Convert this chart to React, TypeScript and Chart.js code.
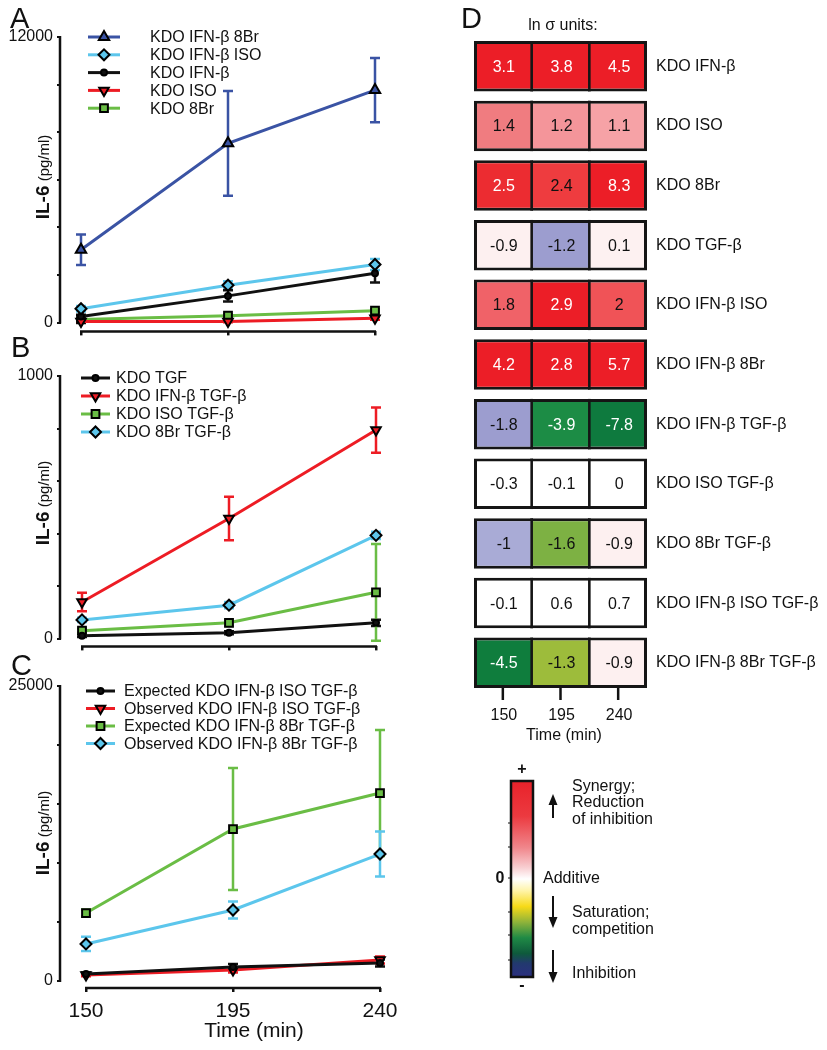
import React, { useEffect, useRef } from 'react';
import { Chart, registerables } from 'chart.js';
import { drawPoint } from 'chart.js/helpers';

Chart.register(...registerables);
const FONT = "'Liberation Sans', Arial, Helvetica, sans-serif";
Chart.defaults.font.family = FONT;
Chart.defaults.color = '#111';

// ---------------- data ----------------
const timePoints = [150, 195, 240];

// Panel A  (IL-6, pg/ml)
const aLabels = ['KDO IFN-β 8Br', 'KDO IFN-β ISO', 'KDO IFN-β', 'KDO ISO', 'KDO 8Br'];
const aIfnB8Br = [3060, 7530, 9770];
const aIfnB8BrErr = [640, 2200, 1350];
const aIfnBIso = [580, 1570, 2440];
const aIfnBIsoErr = [120, 170, 230];
const aIfnB = [250, 1120, 2070];
const aIfnBErr = [80, 240, 390];
const aIso = [40, 40, 180];
const aIsoErr = [30, 30, 60];
const a8Br = [130, 290, 500];
const a8BrErr = [40, 50, 60];
const aYTicks = [0, 2000, 4000, 6000, 8000, 10000, 12000];

// Panel B
const bLabels = ['KDO TGF', 'KDO IFN-β TGF-β', 'KDO ISO TGF-β', 'KDO 8Br TGF-β'];
const bTgf = [11, 22, 60];
const bTgfErr = [5, 6, 12];
const bIfnBTgf = [139, 457, 794];
const bIfnBTgfErr = [35, 83, 86];
const bIsoTgf = [30, 60, 176];
const bIsoTgfErr = [8, 12, 184];
const b8BrTgf = [71, 127, 393];
const b8BrTgfErr = [8, 12, 14];
const bYTicks = [0, 200, 400, 600, 800, 1000];

// Panel C
const cLabels = [
  'Expected KDO IFN-β ISO TGF-β',
  'Observed KDO IFN-β ISO TGF-β',
  'Expected KDO IFN-β 8Br TGF-β',
  'Observed KDO IFN-β 8Br TGF-β',
];
const cExpIso = [590, 1190, 1530];
const cExpIsoErr = [120, 250, 300];
const cObsIso = [500, 930, 1780];
const cObsIsoErr = [100, 200, 300];
const cExp8Br = [5760, 12880, 15930];
const cExp8BrErr = [300, 5170, 5340];
const cObs8Br = [3140, 6020, 10760];
const cObs8BrErr = [600, 720, 1900];
const cYTicks = [0, 5000, 10000, 15000, 20000, 25000];

// Panel D  (ln sigma units)
const rowLabels = [
  'KDO IFN-β',
  'KDO ISO',
  'KDO 8Br',
  'KDO TGF-β',
  'KDO IFN-β ISO',
  'KDO IFN-β 8Br',
  'KDO IFN-β TGF-β',
  'KDO ISO TGF-β',
  'KDO 8Br TGF-β',
  'KDO IFN-β ISO TGF-β',
  'KDO IFN-β 8Br TGF-β',
];
const sigma150 = [3.1, 1.4, 2.5, -0.9, 1.8, 4.2, -1.8, -0.3, -1, -0.1, -4.5];
const sigma195 = [3.8, 1.2, 2.4, -1.2, 2.9, 2.8, -3.9, -0.1, -1.6, 0.6, -1.3];
const sigma240 = [4.5, 1.1, 8.3, 0.1, 2, 5.7, -7.8, 0, -0.9, 0.7, -0.9];
const heatTickLabels = ['150', '195', '240'];

// ---------------- styles ----------------
const BLUE = '#3a53a4';
const CYAN = '#5cc6ec';
const BLACK = '#111111';
const RED = '#ed1c24';
const GREEN = '#6abd45';

const color150 = ['#ec1e27', '#f07c80', '#ec2c31', '#fdf0f0', '#f06268', '#ec1e27', '#9c9dcf', '#ffffff', '#a9abd6', '#ffffff', '#0f7d3d'];
const color195 = ['#ec1e27', '#f4959a', '#ee3c3f', '#9c9dcf', '#ec1e27', '#ec1e27', '#1c8c45', '#ffffff', '#7db143', '#ffffff', '#9dbc3b'];
const color240 = ['#ec1e27', '#f6a2a6', '#ec1e27', '#fdf1f1', '#f05357', '#ec1e27', '#0e7a3e', '#ffffff', '#fdf0f0', '#ffffff', '#fdf0f0'];

type Series = {
  label: string;
  values: number[];
  errors: number[];
  color: string;
  shape: string;
  rotation: number;
  radius: number;
};

type PanelSpec = {
  id: string;
  letter: string;
  top: number;
  height: number;
  width: number;
  series: Series[];
  yMax: number;
  yTicks: number[];
  axisLeftPx: number;
  yTopPx: number;
  yZeroPx: number;
  xSpinePx: number;
  x150Px: number;
  x240Px: number;
  padRight: number;
  showXLabels: boolean;
  legend: { x0: number; x1: number; textX: number; y0: number; dy: number };
  titleCenterY: number;
  letterX: number;
  letterY: number;
  xTitle?: { text: string; x: number; y: number };
};

function mk(label: string, values: number[], errors: number[], color: string, shape: string, rotation: number, radius: number): Series {
  return { label, values, errors, color, shape, rotation, radius };
}

const panelA: PanelSpec = {
  id: 'A', letter: 'A', top: 0, height: 345, width: 410,
  series: [
    mk(aLabels[0], aIfnB8Br, aIfnB8BrErr, BLUE, 'triangle', 0, 6),
    mk(aLabels[1], aIfnBIso, aIfnBIsoErr, CYAN, 'rectRot', 0, 5.5),
    mk(aLabels[2], aIfnB, aIfnBErr, BLACK, 'circle', 0, 3),
    mk(aLabels[3], aIso, aIsoErr, RED, 'triangle', 180, 5.5),
    mk(aLabels[4], a8Br, a8BrErr, GREEN, 'rect', 0, 5.5),
  ],
  yMax: 12000, yTicks: aYTicks,
  axisLeftPx: 61, yTopPx: 37, yZeroPx: 327, xSpinePx: 336, x150Px: 81, x240Px: 375, padRight: 22,
  showXLabels: false,
  legend: { x0: 88, x1: 120, textX: 150, y0: 37, dy: 17.8 },
  titleCenterY: 177, letterX: 10, letterY: 28,
};

const panelB: PanelSpec = {
  id: 'B', letter: 'B', top: 330, height: 330, width: 410,
  series: [
    mk(bLabels[0], bTgf, bTgfErr, BLACK, 'circle', 0, 3),
    mk(bLabels[1], bIfnBTgf, bIfnBTgfErr, RED, 'triangle', 180, 5.5),
    mk(bLabels[2], bIsoTgf, bIsoTgfErr, GREEN, 'rect', 0, 5.5),
    mk(bLabels[3], b8BrTgf, b8BrTgfErr, CYAN, 'rectRot', 0, 5.5),
  ],
  yMax: 1000, yTicks: bYTicks,
  axisLeftPx: 61, yTopPx: 46, yZeroPx: 313, xSpinePx: 321, x150Px: 82, x240Px: 376, padRight: 22,
  showXLabels: false,
  legend: { x0: 81, x1: 110, textX: 116, y0: 48, dy: 18 },
  titleCenterY: 173, letterX: 11, letterY: 27,
};

const panelC: PanelSpec = {
  id: 'C', letter: 'C', top: 645, height: 405, width: 410,
  series: [
    mk(cLabels[0], cExpIso, cExpIsoErr, BLACK, 'circle', 0, 3),
    mk(cLabels[1], cObsIso, cObsIsoErr, RED, 'triangle', 180, 5.5),
    mk(cLabels[2], cExp8Br, cExp8BrErr, GREEN, 'rect', 0, 5.5),
    mk(cLabels[3], cObs8Br, cObs8BrErr, CYAN, 'rectRot', 0, 5.5),
  ],
  yMax: 25000, yTicks: cYTicks,
  axisLeftPx: 61, yTopPx: 41, yZeroPx: 336, xSpinePx: 343, x150Px: 86, x240Px: 380, padRight: 20,
  showXLabels: true,
  legend: { x0: 86, x1: 115, textX: 124, y0: 46, dy: 17.5 },
  titleCenterY: 188, letterX: 11, letterY: 30,
  xTitle: { text: 'Time (min)', x: 254, y: 392 },
};

// ---------------- line panels ----------------
function panelPlugin(spec: PanelSpec) {
  return {
    id: 'panelDecor' + spec.id,
    beforeDatasetsDraw(chart: any) {
      const ctx = chart.ctx;
      const xs = chart.scales.x;
      const ys = chart.scales.y;
      ctx.save();
      ctx.lineCap = 'butt';
      spec.series.forEach((sr) => {
        ctx.strokeStyle = sr.color;
        ctx.lineWidth = 2.5;
        sr.values.forEach((v, i) => {
          const e = sr.errors[i];
          const px = xs.getPixelForValue(timePoints[i]);
          const pt = ys.getPixelForValue(v + e);
          const pb = ys.getPixelForValue(v - e);
          ctx.beginPath();
          ctx.moveTo(px, pt);
          ctx.lineTo(px, pb);
          ctx.moveTo(px - 5, pt);
          ctx.lineTo(px + 5, pt);
          ctx.moveTo(px - 5, pb);
          ctx.lineTo(px + 5, pb);
          ctx.stroke();
        });
      });
      ctx.restore();
    },
    afterDraw(chart: any) {
      const ctx = chart.ctx;
      const xs = chart.scales.x;
      const ys = chart.scales.y;
      const area = chart.chartArea;
      ctx.save();
      // spines
      ctx.strokeStyle = '#111';
      ctx.lineWidth = 2.5;
      ctx.beginPath();
      ctx.moveTo(area.left - 1, ys.getPixelForValue(spec.yMax) - 1);
      ctx.lineTo(area.left - 1, ys.getPixelForValue(0) + 1);
      ctx.stroke();
      ctx.beginPath();
      ctx.moveTo(xs.getPixelForValue(timePoints[0]) - 1, area.bottom);
      ctx.lineTo(xs.getPixelForValue(timePoints[timePoints.length - 1]) + 1, area.bottom);
      ctx.stroke();

      // legend
      const lg = spec.legend;
      ctx.font = `16px ${FONT}`;
      ctx.textBaseline = 'middle';
      ctx.textAlign = 'left';
      spec.series.forEach((sr, i) => {
        const y = lg.y0 + i * lg.dy;
        ctx.strokeStyle = sr.color;
        ctx.lineWidth = 3;
        ctx.beginPath();
        ctx.moveTo(lg.x0, y);
        ctx.lineTo(lg.x1, y);
        ctx.stroke();
        ctx.fillStyle = sr.color;
        ctx.strokeStyle = '#000';
        ctx.lineWidth = 2;
        drawPoint(ctx, { pointStyle: sr.shape as any, rotation: sr.rotation, radius: sr.radius, borderWidth: 2 } as any, (lg.x0 + lg.x1) / 2, y);
        ctx.fillStyle = '#111';
        ctx.fillText(sr.label, lg.textX, y + 1);
      });

      // y title
      ctx.save();
      ctx.translate(49, spec.titleCenterY);
      ctx.rotate(-Math.PI / 2);
      ctx.textBaseline = 'alphabetic';
      ctx.font = `bold 19px ${FONT}`;
      const w1 = ctx.measureText('IL-6').width;
      ctx.font = `15px ${FONT}`;
      const w2 = ctx.measureText(' (pg/ml)').width;
      const start = -(w1 + w2) / 2;
      ctx.fillStyle = '#111';
      ctx.font = `bold 19px ${FONT}`;
      ctx.fillText('IL-6', start, 0);
      ctx.font = `15px ${FONT}`;
      ctx.fillText(' (pg/ml)', start + w1, 0);
      ctx.restore();

      // letter
      ctx.fillStyle = '#111';
      ctx.font = `29px ${FONT}`;
      ctx.textBaseline = 'alphabetic';
      ctx.textAlign = 'left';
      ctx.fillText(spec.letter, spec.letterX, spec.letterY);

      if (spec.xTitle) {
        ctx.font = `21px ${FONT}`;
        ctx.textAlign = 'center';
        ctx.fillText(spec.xTitle.text, spec.xTitle.x, spec.xTitle.y);
      }
      ctx.restore();
    },
  };
}

function LinePanel({ spec }: { spec: PanelSpec }) {
  const ref = useRef<HTMLCanvasElement | null>(null);
  useEffect(() => {
    const canvas = ref.current;
    if (!canvas) return;
    const s = spec;
    const chartRight = s.width - s.padRight;
    const xPerPx = (timePoints[2] - timePoints[0]) / (s.x240Px - s.x150Px);
    const xMin = timePoints[0] - (s.x150Px - s.axisLeftPx) * xPerPx;
    const xMax = timePoints[2] + (chartRight - s.x240Px) * xPerPx;
    const yPerPx = s.yMax / (s.yZeroPx - s.yTopPx);
    const yMin = -(s.xSpinePx - s.yZeroPx) * yPerPx;

    const datasets = s.series.map((sr) => ({
      label: sr.label,
      data: sr.values.map((v, i) => ({ x: timePoints[i], y: v })),
      borderColor: sr.color,
      backgroundColor: sr.color,
      borderWidth: 3,
      pointStyle: sr.shape,
      pointRotation: sr.rotation,
      pointRadius: sr.radius,
      pointBorderColor: '#000',
      pointBackgroundColor: sr.color,
      pointBorderWidth: 2,
      tension: 0,
      clip: false,
    }));

    const chart = new Chart(canvas, {
      type: 'line',
      data: { datasets } as any,
      options: {
        responsive: false,
        animation: false,
        events: [],
        layout: { padding: { top: s.yTopPx, left: 0, right: s.padRight, bottom: 0 } },
        plugins: { legend: { display: false }, tooltip: { enabled: false } },
        scales: {
          x: {
            type: 'linear',
            min: xMin,
            max: xMax,
            afterBuildTicks: (sc: any) => {
              sc.ticks = timePoints.map((v) => ({ value: v }));
            },
            afterFit: (sc: any) => {
              sc.height = s.height - s.xSpinePx;
            },
            grid: { drawOnChartArea: false, drawTicks: true, tickLength: 4, color: '#111', lineWidth: 2.5 },
            border: { display: false },
            ticks: {
              display: s.showXLabels,
              autoSkip: false,
              maxRotation: 0,
              padding: 7,
              color: '#111',
              font: { size: 21 },
              callback: (v: any) => String(v),
            },
          },
          y: {
            type: 'linear',
            min: yMin,
            max: s.yMax,
            afterBuildTicks: (sc: any) => {
              sc.ticks = s.yTicks.map((v) => ({ value: v }));
            },
            afterFit: (sc: any) => {
              sc.width = s.axisLeftPx;
            },
            grid: { drawOnChartArea: false, drawTicks: true, tickLength: 4, color: '#111', lineWidth: 2 },
            border: { display: false },
            ticks: {
              autoSkip: false,
              padding: 4,
              color: '#111',
              font: { size: 16 },
              callback: (v: any) => (v === 0 || v === s.yMax ? String(v) : ''),
            },
          },
        },
      } as any,
      plugins: [panelPlugin(s)],
    });
    return () => chart.destroy();
  }, [spec]);
  return (
    <canvas
      ref={ref}
      width={spec.width}
      height={spec.height}
      style={{ position: 'absolute', left: 0, top: spec.top, width: spec.width, height: spec.height }}
    />
  );
}

// ---------------- heatmap panel ----------------
function luminance(hex: string) {
  const n = parseInt(hex.slice(1), 16);
  const r = (n >> 16) & 255;
  const g = (n >> 8) & 255;
  const b = n & 255;
  return (0.299 * r + 0.587 * g + 0.114 * b) / 255;
}

const D_LEFT = 410;

function heatPlugin() {
  return {
    id: 'heatDecor',
    afterDatasetsDraw(chart: any) {
      const ctx = chart.ctx;
      const cols = [sigma150, sigma195, sigma240];
      const colColors = [color150, color195, color240];
      ctx.save();
      // column dividers inside each row box
      ctx.strokeStyle = '#151515';
      ctx.lineWidth = 2.6;
      const xs = chart.scales.x;
      const meta0 = chart.getDatasetMeta(0);
      meta0.data.forEach((el: any) => {
        const p = el.getProps(['y', 'height'], true);
        [1, 2].forEach((c) => {
          const x = xs.getPixelForValue(c);
          ctx.beginPath();
          ctx.moveTo(x, p.y - p.height / 2);
          ctx.lineTo(x, p.y + p.height / 2);
          ctx.stroke();
        });
      });
      ctx.font = `16px ${FONT}`;
      ctx.textAlign = 'center';
      ctx.textBaseline = 'middle';
      cols.forEach((vals, c) => {
        const meta = chart.getDatasetMeta(c);
        meta.data.forEach((el: any, j: number) => {
          const p = el.getProps(['x', 'y', 'base'], true);
          const cx = (p.x + p.base) / 2;
          ctx.fillStyle = luminance(colColors[c][j]) < 0.4 ? '#ffffff' : '#111111';
          ctx.fillText(String(vals[j]), cx + 1, p.y + 1);
        });
      });
      ctx.restore();
    },
    afterDraw(chart: any) {
      const ctx = chart.ctx;
      const xs = chart.scales.x;
      ctx.save();
      // ticks under heatmap
      const meta = chart.getDatasetMeta(0);
      const last = meta.data[meta.data.length - 1];
      const lp = last.getProps(['y', 'height'], true);
      const bottom = lp.y + lp.height / 2;
      ctx.strokeStyle = '#111';
      ctx.lineWidth = 2.5;
      ctx.font = `16px ${FONT}`;
      ctx.fillStyle = '#111';
      ctx.textAlign = 'center';
      ctx.textBaseline = 'middle';
      heatTickLabels.forEach((lab, i) => {
        const x = xs.getPixelForValue(i + 0.5);
        ctx.beginPath();
        ctx.moveTo(x, bottom);
        ctx.lineTo(x, bottom + 12);
        ctx.stroke();
        ctx.fillText(lab, x + 1, 716);
      });
      ctx.fillText('Time (min)', 154, 736);

      // header
      ctx.textAlign = 'left';
      ctx.textBaseline = 'alphabetic';
      ctx.font = `29px ${FONT}`;
      ctx.fillText('D', 51, 28);
      ctx.font = `16px ${FONT}`;
      ctx.textAlign = 'center';
      ctx.textBaseline = 'middle';
      ctx.fillText('ln σ units:', 153, 26);

      // colour bar
      const bx = 511 - D_LEFT;
      const bw = 22;
      const by = 781;
      const bh = 196;
      const g = ctx.createLinearGradient(0, by, 0, by + bh);
      g.addColorStop(0, '#e8222a');
      g.addColorStop(0.18, '#ec3a40');
      g.addColorStop(0.34, '#f0868b');
      g.addColorStop(0.44, '#f8cdd0');
      g.addColorStop(0.5, '#ffffff');
      g.addColorStop(0.56, '#fff4a8');
      g.addColorStop(0.64, '#f7da18');
      g.addColorStop(0.72, '#8fb33a');
      g.addColorStop(0.8, '#1f8a45');
      g.addColorStop(0.88, '#0e5a3c');
      g.addColorStop(0.93, '#22396e');
      g.addColorStop(1, '#2b2f80');
      ctx.fillStyle = g;
      ctx.fillRect(bx, by, bw, bh);
      ctx.strokeStyle = '#111';
      ctx.lineWidth = 2.5;
      ctx.strokeRect(bx, by, bw, bh);
      ctx.lineWidth = 1;
      [823, 847, 878, 912, 935, 960].forEach((ty) => {
        ctx.beginPath();
        ctx.moveTo(bx - 3, ty);
        ctx.lineTo(bx, ty);
        ctx.stroke();
      });
      ctx.fillStyle = '#111';
      ctx.font = `bold 16px ${FONT}`;
      ctx.textAlign = 'center';
      ctx.fillText('+', bx + bw / 2, 770);
      ctx.fillText('-', bx + bw / 2, 986);
      ctx.fillText('0', bx - 11, 879);

      // arrows
      const ax = 553 - D_LEFT;
      const arrow = (y0: number, y1: number) => {
        const dir = y1 > y0 ? 1 : -1;
        ctx.strokeStyle = '#111';
        ctx.lineWidth = 2;
        ctx.beginPath();
        ctx.moveTo(ax, y0);
        ctx.lineTo(ax, y1 - dir * 8);
        ctx.stroke();
        ctx.fillStyle = '#111';
        ctx.beginPath();
        ctx.moveTo(ax, y1);
        ctx.lineTo(ax - 4.5, y1 - dir * 11);
        ctx.lineTo(ax + 4.5, y1 - dir * 11);
        ctx.closePath();
        ctx.fill();
      };
      arrow(818, 794);
      arrow(896, 928);
      arrow(950, 983);

      ctx.font = `16px ${FONT}`;
      ctx.textAlign = 'left';
      ctx.textBaseline = 'middle';
      ctx.fillStyle = '#111';
      const tx = 572 - D_LEFT;
      ctx.fillText('Synergy;', tx, 787);
      ctx.fillText('Reduction', tx, 803);
      ctx.fillText('of inhibition', tx, 820);
      ctx.fillText('Additive', 543 - D_LEFT, 879);
      ctx.fillText('Saturation;', tx, 913);
      ctx.fillText('competition', tx, 930);
      ctx.fillText('Inhibition', tx, 974);
      ctx.restore();
    },
  };
}

function HeatPanel() {
  const ref = useRef<HTMLCanvasElement | null>(null);
  useEffect(() => {
    const canvas = ref.current;
    if (!canvas) return;
    const W = 417;
    const H = 1050;
    const boxLeft = 474 - D_LEFT;
    const boxRight = 647 - D_LEFT;
    const firstTop = 41;
    const lastBottom = 688;
    const cellH = 50.5;
    const n = rowLabels.length;
    const pitch = (lastBottom - firstTop - cellH) / (n - 1);
    const chartTop = firstTop - (pitch - cellH) / 2;
    const chartBottom = chartTop + pitch * n;
    const outer = 3;
    const cols = [sigma150, sigma195, sigma240];
    const colColors = [color150, color195, color240];
    const datasets = cols.map((vals, c) => ({
      label: heatTickLabels[c],
      data: vals.map(() => [c, c + 1]),
      backgroundColor: colColors[c],
      borderColor: '#151515',
      borderWidth: {
        top: outer,
        bottom: outer,
        left: c === 0 ? outer : 0,
        right: c === cols.length - 1 ? outer : 0,
      },
      borderSkipped: false,
      inflateAmount: 0,
      categoryPercentage: cellH / pitch,
      barPercentage: 1,
      grouped: false,
    }));
    const chart = new Chart(canvas, {
      type: 'bar',
      data: { labels: rowLabels, datasets } as any,
      options: {
        indexAxis: 'y',
        responsive: false,
        animation: false,
        events: [],
        layout: { padding: { top: chartTop, bottom: H - chartBottom, left: boxLeft, right: 0 } },
        plugins: { legend: { display: false }, tooltip: { enabled: false } },
        scales: {
          x: { type: 'linear', min: 0, max: 3, display: false },
          y: {
            type: 'category',
            position: 'right',
            afterFit: (sc: any) => {
              sc.width = W - boxRight;
            },
            grid: { display: false, drawTicks: false },
            border: { display: false },
            ticks: { autoSkip: false, padding: 9, color: '#111', font: { size: 16 } },
          },
        },
      } as any,
      plugins: [heatPlugin()],
    });
    return () => chart.destroy();
  }, []);
  return (
    <canvas
      ref={ref}
      width={417}
      height={1050}
      style={{ position: 'absolute', left: D_LEFT, top: 0, width: 417, height: 1050 }}
    />
  );
}

export default function App() {
  return (
    <div style={{ position: 'absolute', left: 0, top: 0, width: 827, height: 1050, background: '#fff', overflow: 'hidden' }}>
      <LinePanel spec={panelA} />
      <LinePanel spec={panelB} />
      <LinePanel spec={panelC} />
      <HeatPanel />
    </div>
  );
}
